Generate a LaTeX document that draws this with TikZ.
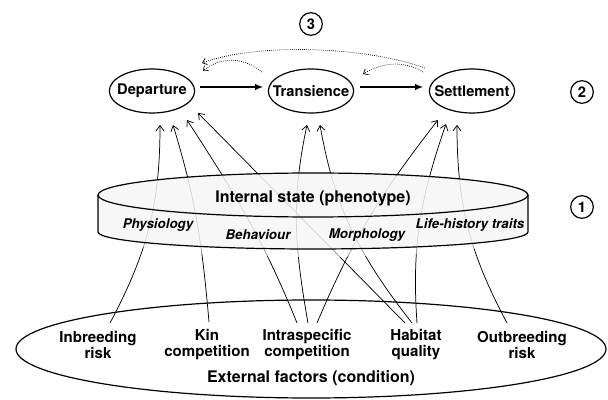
\documentclass[tikz,border=0pt]{standalone}
\usepackage{fontspec}
\setmainfont{TeX Gyre Heros}
\usetikzlibrary{shapes.geometric, arrows.meta}

\tikzstyle{stage} = [ellipse, draw=black, line width=0.9pt, minimum width=64pt, minimum height=33pt, inner sep=0pt, font=\bfseries\fontsize{11}{13}\selectfont]
\tikzstyle{numbered} = [circle, draw=black, line width=0.9pt, minimum size=17pt, inner sep=0pt, font=\bfseries\fontsize{11}{13}\selectfont]
\tikzstyle{factor} = [align=center, inner sep=0pt, font=\bfseries\fontsize{11.3}{12}\selectfont]
\tikzstyle{title} = [inner sep=0pt, font=\bfseries\fontsize{12}{14}\selectfont]
\tikzstyle{trait} = [inner sep=0pt, font=\bfseries\itshape\fontsize{10}{12}\selectfont]
\tikzstyle{outline} = [draw=black, line width=0.9pt]
\tikzstyle{arrow} = [line width=0.9pt, -{Latex[length=6pt, width=5pt]}]
\tikzstyle{link} = [line width=0.55pt, -{Straight Barb[length=4pt, width=6pt]}]
\tikzstyle{back} = [densely dotted, line width=0.55pt, -{Straight Barb[length=3pt, width=5pt]}]

\begin{document}
\begin{tikzpicture}[x=0.75pt, y=0.75pt]
\useasboundingbox (0,0) rectangle (608,400);

% dispersal stages
\node (dep) [stage] at (152,309) {\makebox[0pt]{Departure}};
\node (tra) [stage] at (311,309) {\makebox[0pt]{Transience}};
\node (set) [stage] at (472,309) {\makebox[0pt]{Settlement}};

\node (n3) [numbered] at (311,376) {3};
\node (n2) [numbered] at (582,308) {2};
\node (n1) [numbered] at (582,193) {1};

% external factors
\draw [outline] (311,51) ellipse [x radius=295, y radius=49];
\node (inb) [factor] at (98,55) {Inbreeding\\risk};
\node (kin) [factor] at (207,55) {Kin\\competition};
\node (intra) [factor] at (307,55) {Intraspecific\\competition};
\node (hab) [factor] at (416,55) {Habitat\\quality};
\node (outb) [factor] at (522,55) {Outbreeding\\risk};
\node (ext) [title] at (311,22) {External factors (condition)};

\draw [arrow] ([shift={(48,4)}]dep.center) -- ([shift={(-48,4)}]tra.center);
\draw [arrow] ([shift={(49,4)}]tra.center) -- ([shift={(-49,4)}]set.center);
\draw [back] ([shift={(-47,23)}]set.center) to[out=160, in=20, looseness=0.7] ([shift={(50,28)}]dep.center);
\draw [back] ([shift={(-49,19)}]tra.center) to[out=140, in=40] ([shift={(51,20)}]dep.center);
\draw [back] ([shift={(-49,19)}]set.center) to[out=150, in=30] ([shift={(52,17)}]tra.center);

% influences on each stage
\draw [link] ([shift={(12,22)}]inb.center) to[out=62, in=-90] ([shift={(8,-34)}]dep.center);
\draw [link] ([shift={(2,23)}]kin.center) to[out=95, in=-73] ([shift={(21,-34)}]dep.center);
\draw [link] ([shift={(-10,22)}]intra.center) to[out=112, in=-57] ([shift={(35,-29)}]dep.center);
\draw [link] ([shift={(-11,22)}]hab.center) -- ([shift={(46,-22)}]dep.center);
\draw [link] ([shift={(1,22)}]intra.center) to[out=100, in=-102] ([shift={(-4,-34)}]tra.center);
\draw [link] ([shift={(-4,22)}]hab.center) to[out=128, in=-80] ([shift={(9,-34)}]tra.center);
\draw [link] ([shift={(10,22)}]intra.center) to[out=67, in=-128] ([shift={(-34,-29)}]set.center);
\draw [link] ([shift={(1,22)}]hab.center) to[out=94, in=-109] ([shift={(-26,-33)}]set.center);
\draw [link] ([shift={(-15,22)}]outb.center) to[out=118, in=-90] ([shift={(-15,-34)}]set.center);

% internal state (phenotype)
\fill [white, fill opacity=0.6] (98,168) arc [start angle=180, end angle=360, x radius=215, y radius=17] arc [start angle=0, end angle=-180, x radius=215, y radius=25];
\fill [gray!7, fill opacity=0.86] (98,205) -- (98,168) arc [start angle=180, end angle=360, x radius=215, y radius=17] -- (528,205) arc [start angle=0, end angle=180, x radius=215, y radius=22] -- cycle;
\draw [outline] (98,205) -- (98,168) arc [start angle=180, end angle=360, x radius=215, y radius=17] -- (528,205);
\draw [outline] (313,205) ellipse [x radius=215, y radius=22];
\node (int) [title] at (313,202) {Internal state (phenotype)};
\node (phy) [trait] at (158,175) {Physiology};
\node (beh) [trait] at (258,165) {Behaviour};
\node (mor) [trait] at (367,165) {Morphology};
\node (lif) [trait] at (470,175) {Life-history traits};

\end{tikzpicture}
\end{document}
